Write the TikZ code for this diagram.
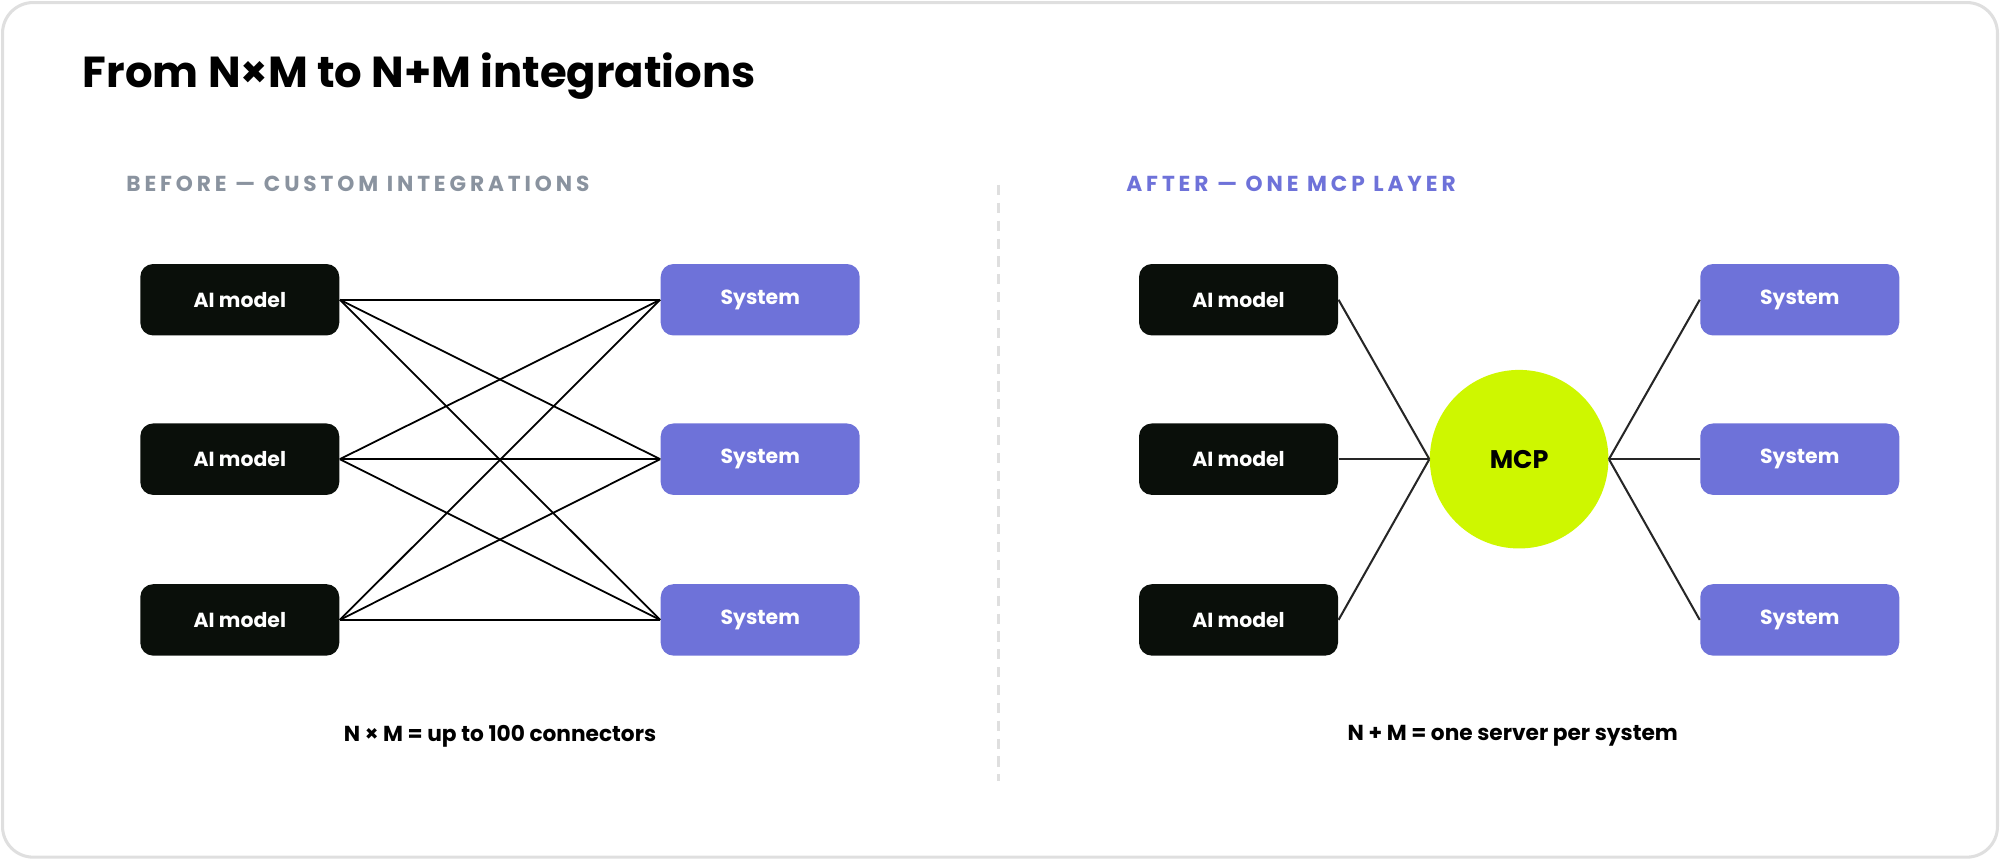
\documentclass[tikz,border=0pt]{standalone}
\usepackage{fontspec}
\setmainfont{Poppins}
\definecolor{ink}{HTML}{0A0F0A}
\definecolor{sys}{HTML}{6E72D9}
\definecolor{mcp}{HTML}{CEF700}
\definecolor{grayt}{HTML}{8A939F}
\definecolor{thin}{HTML}{B0B3BA}
\begin{document}
\begin{tikzpicture}[x=0.5pt,y=-0.5pt,
  ai/.style={fill=ink,rounded corners=5pt,minimum width=78pt,minimum height=28pt,text=white,font=\fontsize{8}{9}\selectfont\bfseries},
  sy/.style={ai,fill=sys},
  thinl/.style={thin,line width=0.7pt},
  darkl/.style={black!85,line width=0.8pt},
  head/.style={anchor=west,font=\fontsize{8.5}{10}\selectfont\bfseries\addfontfeatures{LetterSpace=18}},
  captxt/.style={font=\fontsize{8.5}{10}\selectfont\bfseries}]
\useasboundingbox (0,0) rectangle (1568,674);
\draw[gray!25,line width=1.2pt,rounded corners=12pt] (2,2) rectangle (1566,672);
\node[anchor=west,font=\fontsize{17}{20}\selectfont\bfseries] (title) at (58,60) {From N×M to N+M integrations};
\node[head,text=grayt] (hb) at (92,144) {BEFORE — CUSTOM INTEGRATIONS};
\node[head,text=sys] (ha) at (876,144) {AFTER — ONE MCP LAYER};
\draw[gray!25,line width=1.2pt,dash pattern=on 4pt off 3pt] (783,145) coordinate (d1) -- (783,612) coordinate (d2);
\foreach \i/\y in {1/235,2/360,3/486}{
  \node[ai] (la\i) at (188,\y) {AI model};
  \node[sy] (ls\i) at (596,\y) {System};
  \node[ai] (ra\i) at (971,\y) {AI model};
  \node[sy] (rs\i) at (1411,\y) {System};
}
\foreach \i in {1,2,3}{\foreach \j in {1,2,3}{\draw[thinl] (la\i.east) -- (ls\j.west);}}
\node[circle,fill=mcp,minimum size=70pt,font=\fontsize{10}{12}\selectfont\bfseries] (m) at (1191,360) {MCP};
\foreach \i in {1,2,3}{
  \draw[darkl] (ra\i.east) -- (m.west);
  \draw[darkl] (m.east) -- (rs\i.west);
}
\node[captxt] (cl) at (392,577) {N × M = up to 100 connectors};
\node[captxt] (cr) at (1186,577) {N + M = one server per system};
\end{tikzpicture}
\end{document}
